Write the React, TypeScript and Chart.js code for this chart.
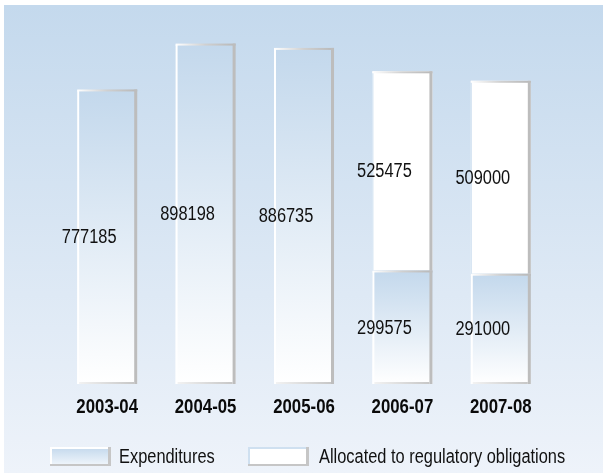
import React, { useEffect, useRef } from "react";
import { Chart, registerables } from "chart.js";

Chart.register(...registerables);

const categories = ["2003-04", "2004-05", "2005-06", "2006-07", "2007-08"];
const expenditures = [777185, 898198, 886735, 299575, 291000];
const allocated = [0, 0, 0, 525475, 509000];
const seriesNames = ["Expenditures", "Allocated to regulatory obligations"];
const yMax = 1000000;

const FONT = "'Liberation Sans', Arial, sans-serif";
const SX = 0.82; // horizontal condensing to imitate a narrow face
const SXB = 0.84;

function narrowText(ctx: any, text: string, x: number, y: number, font: string, sx: number, align: string) {
  ctx.save();
  ctx.font = font;
  ctx.textBaseline = "middle";
  ctx.textAlign = align;
  ctx.translate(x, y);
  ctx.scale(sx, 1);
  ctx.fillText(text, 0, 0);
  ctx.restore();
}

const bgPlugin = {
  id: "bgPanel",
  beforeDraw(chart: any) {
    const { ctx, width, height } = chart;
    ctx.save();
    ctx.fillStyle = "#ffffff";
    ctx.fillRect(0, 0, width, height);
    const g = ctx.createLinearGradient(0, 5, 0, height);
    g.addColorStop(0, "#c4d9ed");
    g.addColorStop(1, "#eef3fa");
    ctx.fillStyle = g;
    ctx.fillRect(4, 5, width - 4, height - 5);
    ctx.restore();
  },
};

const bevelPlugin = {
  id: "bevelAndLabels",
  afterDatasetsDraw(chart: any) {
    const ctx = chart.ctx;
    ctx.save();
    chart.data.datasets.forEach((ds: any, i: number) => {
      const meta = chart.getDatasetMeta(i);
      meta.data.forEach((el: any, j: number) => {
        const { x, y, base, width } = el.getProps(["x", "y", "base", "width"], true);
        if (![x, y, base, width].every(Number.isFinite)) return;
        const left = x - width / 2;
        const right = x + width / 2;
        const top = Math.min(y, base);
        const bottom = Math.max(y, base);
        if (bottom - top < 1) return;
        const gt = ctx.createLinearGradient(left, 0, right, 0);
        gt.addColorStop(0, "#ffffff");
        gt.addColorStop(0.5, "#d0d0d0");
        gt.addColorStop(1, "#b8b8b8");
        ctx.fillStyle = gt;
        ctx.fillRect(left, top, width, 2);
        ctx.fillStyle = "#bdbdbd";
        ctx.fillRect(right - 3, top, 3, bottom - top);
        if (i === 0) {
          ctx.fillStyle = "#ffffff";
          ctx.fillRect(left, top + 1, 2, bottom - top - 1);
          const gb = ctx.createLinearGradient(left, 0, right, 0);
          gb.addColorStop(0, "#f4f4f4");
          gb.addColorStop(1, "#c4c4c4");
          ctx.fillStyle = gb;
          ctx.fillRect(left + 2, bottom - 2, width - 5, 2);
        } else {
          ctx.fillStyle = "#cfe0f0";
          ctx.fillRect(left, top + 2, 1, bottom - top - 2);
        }
        const v = ds.data[j];
        ctx.fillStyle = "#111111";
        narrowText(ctx, String(v), x - 18, (top + bottom) / 2 + 1, `20px ${FONT}`, SX, "center");
      });
    });
    // category labels at the x scale's tick positions
    const xs = chart.scales.x;
    const area = chart.chartArea;
    ctx.fillStyle = "#0a0a0a";
    chart.data.labels.forEach((lab: string, k: number) => {
      const px = xs.getPixelForTick(k);
      narrowText(ctx, lab, px, area.bottom + 23, `bold 20px ${FONT}`, SXB, "center");
    });
    ctx.restore();
  },
};

const legendPlugin = {
  id: "customLegend",
  afterDraw(chart: any) {
    const ctx = chart.ctx;
    ctx.save();
    const sy = 447;
    const sh = 19;
    const sw = 61;
    const x1 = 50;
    const g1 = ctx.createLinearGradient(0, sy, 0, sy + sh);
    g1.addColorStop(0, "#c3d8ec");
    g1.addColorStop(1, "#f2f7fc");
    ctx.fillStyle = "#c6c6c6";
    ctx.fillRect(x1, sy, sw, sh);
    ctx.fillStyle = "#ffffff";
    ctx.fillRect(x1, sy, sw - 3, sh - 2);
    ctx.fillStyle = g1;
    ctx.fillRect(x1 + 2, sy + 2, sw - 5, sh - 4);
    const x2 = 248;
    ctx.fillStyle = "#c6c6c6";
    ctx.fillRect(x2, sy, sw, sh);
    ctx.fillStyle = "#cfe0f0";
    ctx.fillRect(x2, sy, sw - 3, sh - 2);
    ctx.fillStyle = "#ffffff";
    ctx.fillRect(x2 + 2, sy + 2, sw - 5, sh - 4);
    ctx.fillStyle = "#111111";
    narrowText(ctx, seriesNames[0], 119, sy + sh / 2 + 1, `20px ${FONT}`, SX, "left");
    narrowText(ctx, seriesNames[1], 319, sy + sh / 2 + 1, `20px ${FONT}`, SX, "left");
    ctx.restore();
  },
};

export default function App() {
  const ref = useRef<HTMLCanvasElement | null>(null);
  useEffect(() => {
    if (!ref.current) return;
    const chart = new Chart(ref.current, {
      type: "bar",
      data: {
        labels: categories,
        datasets: [
          {
            label: seriesNames[0],
            data: expenditures,
            borderWidth: 0,
            backgroundColor: (c: any) => {
              const ch = c.chart;
              const ys = ch.scales && ch.scales.y;
              if (!ys || c.type !== "data" || !c.parsed) return "#d8e6f3";
              const top = ys.getPixelForValue(c.parsed.y);
              const base = ys.getPixelForValue(0);
              if (!Number.isFinite(top) || !Number.isFinite(base) || top === base) return "#d8e6f3";
              const g = ch.ctx.createLinearGradient(0, top, 0, base);
              g.addColorStop(0, "#c3d8ec");
              g.addColorStop(1, "#ffffff");
              return g;
            },
          },
          {
            label: seriesNames[1],
            data: allocated,
            borderWidth: 0,
            backgroundColor: "#ffffff",
          },
        ],
      },
      options: {
        animation: false,
        responsive: false,
        layout: { padding: { left: 58, right: 53, top: 5, bottom: 89 } },
        plugins: { legend: { display: false }, tooltip: { enabled: false } },
        datasets: { bar: { barPercentage: 0.61, categoryPercentage: 1 } },
        scales: {
          x: { stacked: true, display: false },
          y: { stacked: true, display: false, min: 0, max: yMax },
        },
      },
      plugins: [bgPlugin, bevelPlugin, legendPlugin],
    });
    return () => chart.destroy();
  }, []);
  return (
    <div style={{ position: "absolute", left: 0, top: 0, width: 603, height: 473 }}>
      <canvas ref={ref} width={603} height={473} style={{ display: "block" }} />
    </div>
  );
}
